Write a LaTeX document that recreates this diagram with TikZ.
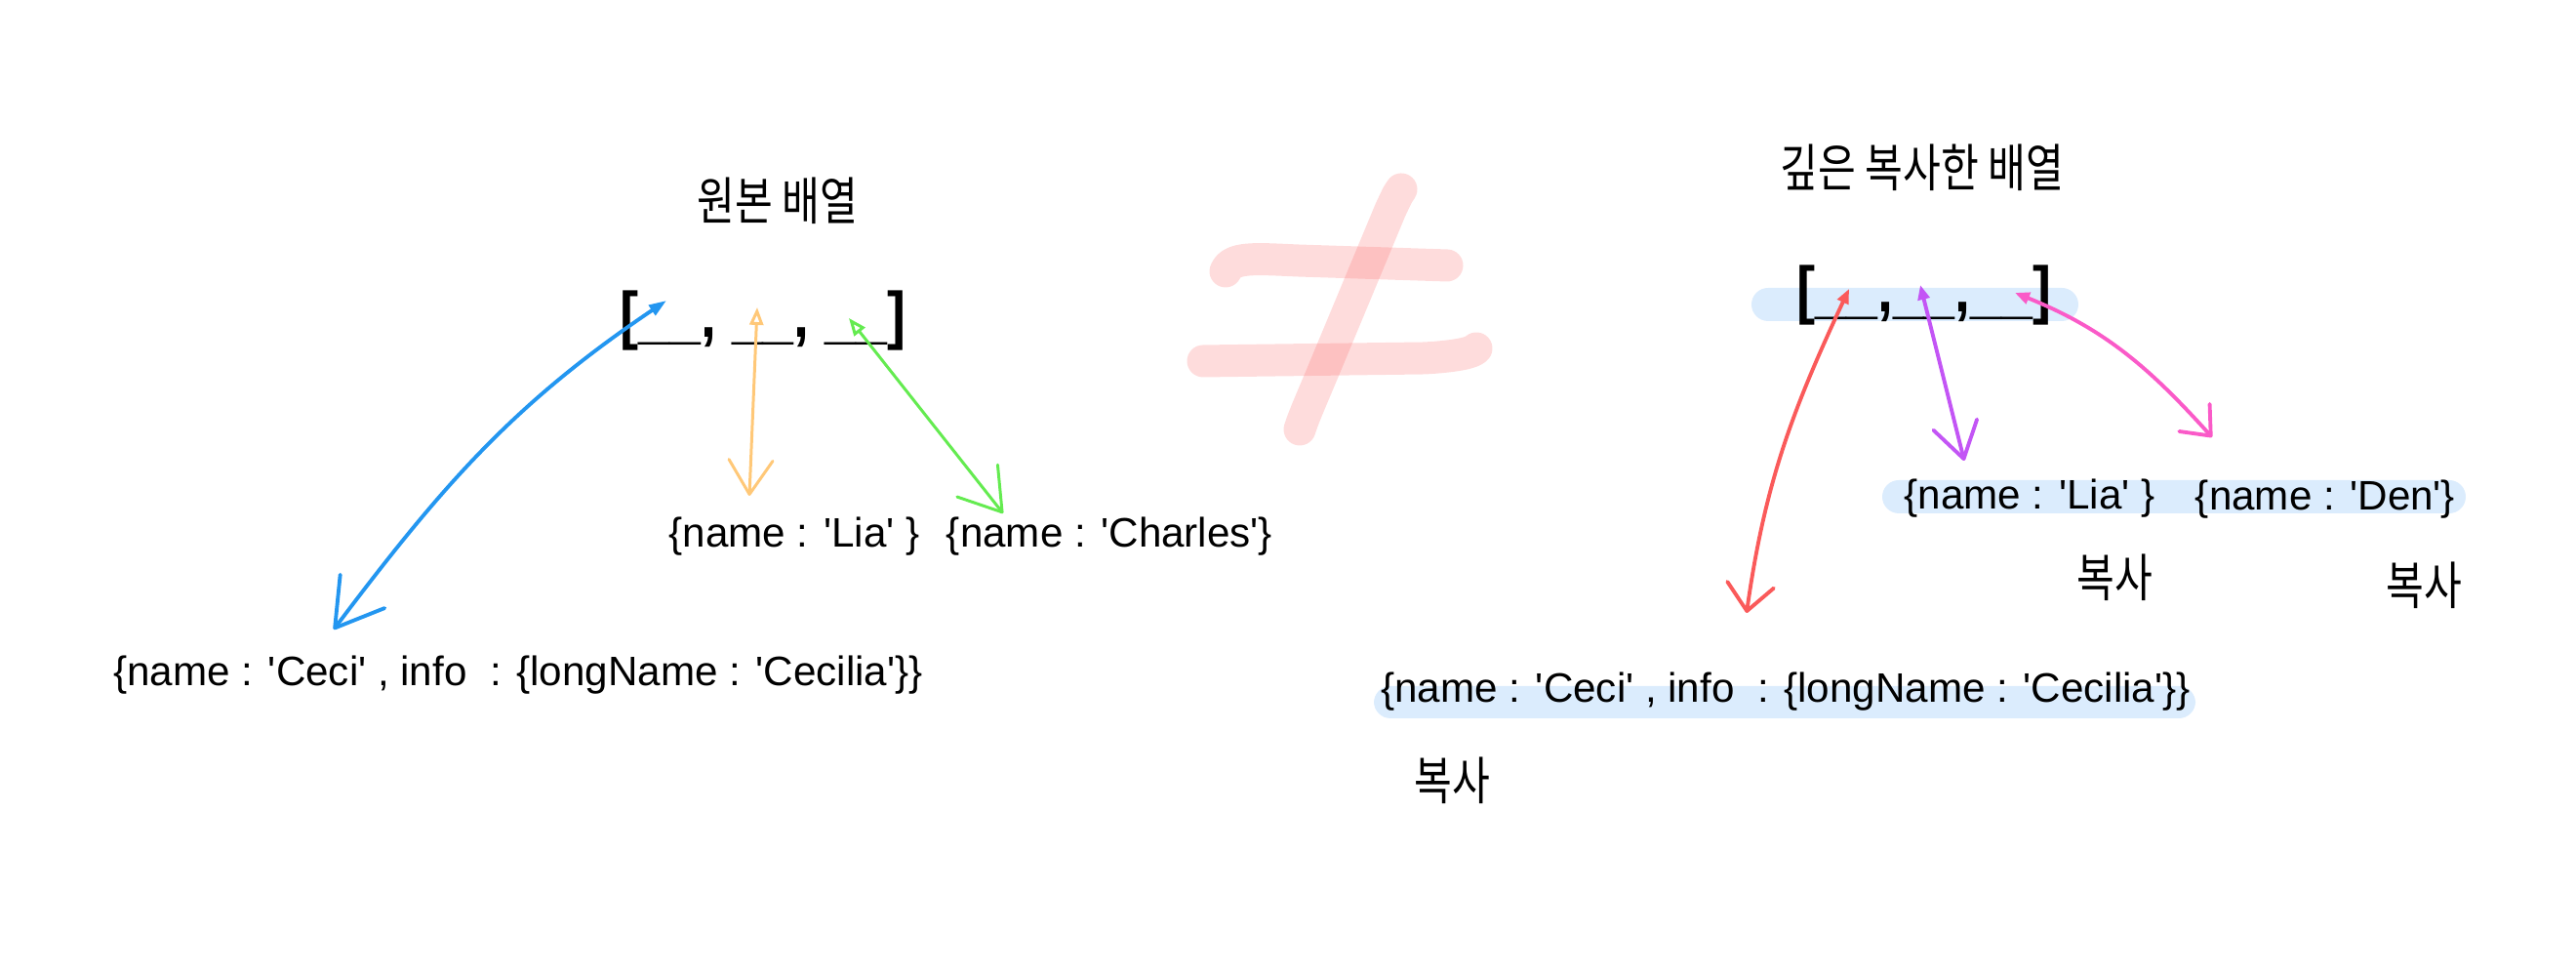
\documentclass[tikz,border=0pt]{standalone}
\usepackage{fontspec}
\usetikzlibrary{arrows.meta}
\newfontfamily\txtfont{Liberation Sans}
\newfontfamily\arrfont{Liberation Sans Bold}[FakeStretch=0.87]
\newfontfamily\krfont{Noto Sans CJK KR}[FakeStretch=0.8]

\definecolor{hlblue}{RGB}{219,236,253}
\definecolor{neqred}{RGB}{250,82,82}
\definecolor{cblue}{RGB}{35,150,240}
\definecolor{corange}{RGB}{255,200,120}
\definecolor{cgreen}{RGB}{100,235,80}
\definecolor{cred}{RGB}{250,90,90}
\definecolor{cviolet}{RGB}{195,85,245}
\definecolor{cpink}{RGB}{250,90,200}

\tikzset{
  obj/.style={font=\txtfont\fontsize{12}{14}\selectfont, inner sep=0pt, anchor=base},
  arrtext/.style={font=\arrfont\fontsize{18.7}{20}\selectfont, inner sep=0pt, anchor=base},
  krtext/.style={font=\krfont\fontsize{15}{18}\selectfont, inner sep=0pt},
  conn/.style={line width=1.1pt, line cap=round, line join=round},
  neq/.style={neqred, opacity=0.2, line width=0.33cm, line cap=round, line join=round},
  hl/.style={fill=hlblue, rounded corners=0.17cm},
}

\begin{document}
\begin{tikzpicture}
\useasboundingbox (0,0) rectangle (26.4,10);

% Highlights
\fill[hl] (17.95,6.71) rectangle (21.30,7.05);
\fill[hl] (19.29,4.74) rectangle (25.27,5.08);
\fill[hl] (14.08,2.64) rectangle (22.50,2.97);

% Not-equal sign
\draw[neq] (12.56,7.22) .. controls (12.62,7.37) and (12.85,7.35) .. (13.30,7.33) -- (14.83,7.28);
\draw[neq] (12.33,6.30) -- (14.60,6.33) .. controls (14.95,6.35) and (15.10,6.39) .. (15.13,6.43);
\draw[neq] (13.32,5.60) .. controls (13.36,5.72) .. (13.55,6.17) -- (14.25,7.85) .. controls (14.33,8.02) .. (14.36,8.06);

% Original array
\node[krtext] (ttlO) at (7.97,7.94) {원본 배열};
\node[arrtext] (arrO) at (7.82,6.54) {[\_\_, \_\_, \_\_]};
\node[obj] (liaO) at (8.14,4.39) {\{name : 'Lia' \}};
\node[obj] (charlesO) at (11.37,4.39) {\{name : 'Charles'\}};
\node[obj] (ceciO) at (5.31,2.97) {\{name : 'Ceci' , info\ \ : \{longName : 'Cecilia'\}\}};

% Deep copy
\node[krtext] (ttlD) at (19.70,8.28) {깊은 복사한 배열};
\node[arrtext] (arrD) at (19.72,6.80) {[\_\_,\_\_,\_\_]};
\node[obj] (liaD) at (20.80,4.78) {\{name : 'Lia' \}};
\node[obj] (denD) at (23.83,4.77) {\{name : 'Den'\}};
\node[obj] (ceciD) at (18.30,2.80) {\{name : 'Ceci' , info\ \ : \{longName : 'Cecilia'\}\}};
\node[krtext] (cpyA) at (21.67,4.08) {복사};
\node[krtext] (cpyB) at (24.84,4.00) {복사};
\node[krtext] (cpyC) at (14.88,2.00) {복사};

% Slots and tips
\coordinate (o1) at (6.83,6.92);
\coordinate (o1t) at (3.42,3.55);
\coordinate (o2) at (7.76,6.85);
\coordinate (o2t) at (7.68,4.92);
\coordinate (o3) at (8.70,6.74);
\coordinate (o3t) at (10.28,4.74);
\coordinate (d1) at (18.95,7.04);
\coordinate (d1t) at (17.90,3.72);
\coordinate (d2) at (19.68,7.08);
\coordinate (d2t) at (20.13,5.28);
\coordinate (d3) at (20.65,7.00);
\coordinate (d3t) at (22.67,5.52);

% References
\draw[conn, cblue, {Triangle[length=0.18cm,width=0.12cm]}-{Straight Barb[round,length=0.47cm,width=0.57cm]}]
  (o1) to[out=214,in=53] (o1t);
\draw[conn, corange, line width=0.85pt, {Triangle[open,length=0.18cm,width=0.14cm]}-{Straight Barb[round,length=0.35cm,width=0.45cm]}]
  (o2) -- (o2t);
\draw[conn, cgreen, line width=0.85pt, {Triangle[open,length=0.18cm,width=0.14cm]}-{Straight Barb[round,length=0.41cm,width=0.53cm]}]
  (o3) -- (o3t);
\draw[conn, cred, {Triangle[length=0.15cm,width=0.12cm]}-{Straight Barb[round,length=0.27cm,width=0.48cm]}]
  (d1) to[out=245,in=82] (d1t);
\draw[conn, cviolet, {Triangle[length=0.15cm,width=0.12cm]}-{Straight Barb[round,length=0.36cm,width=0.46cm]}]
  (d2) -- (d2t);
\draw[conn, cpink, {Triangle[length=0.15cm,width=0.12cm]}-{Straight Barb[round,length=0.25cm,width=0.42cm]}]
  (d3) to[out=-22,in=132] (d3t);
\end{tikzpicture}
\end{document}
